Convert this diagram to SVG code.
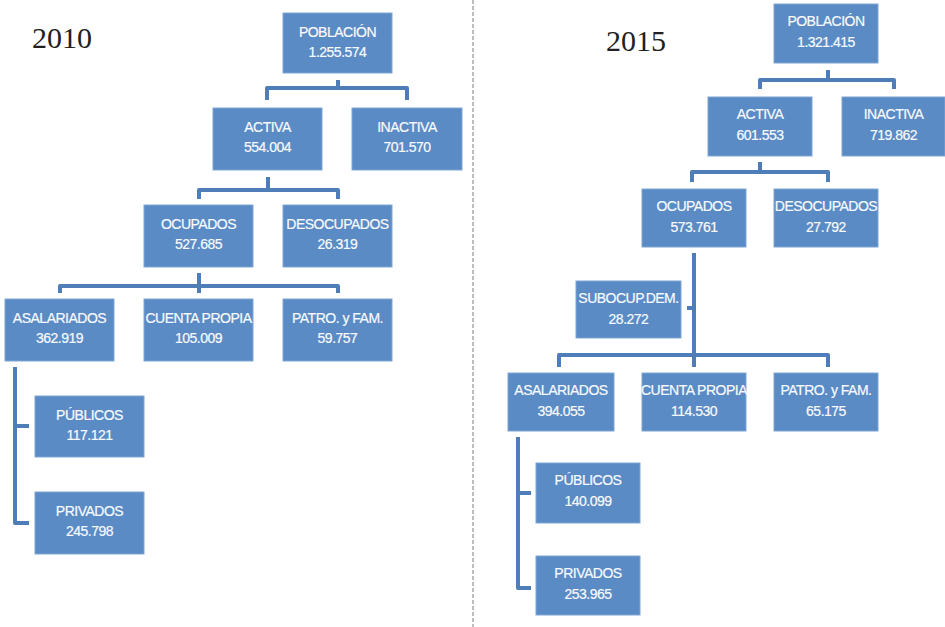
<svg xmlns="http://www.w3.org/2000/svg" width="945" height="627" viewBox="0 0 945 627">
<style>
.box{fill:#5B8BC5;stroke:#7FA5D6;stroke-width:1}
.t{font-family:"Liberation Sans",Arial,sans-serif;font-size:14px;letter-spacing:-0.5px;fill:#F7FAFD;stroke:#F7FAFD;stroke-width:0.2;text-anchor:middle}
.yr{font-family:"Liberation Serif","Times New Roman",serif;font-size:30px;fill:#231F20}
.c{fill:none;stroke:#4E7DB8;stroke-width:4;stroke-linejoin:round;stroke-linecap:butt}
</style>
<rect width="945" height="627" fill="#FFFFFF"/>
<line x1="473" y1="0" x2="473" y2="627" stroke="#A8A8A8" stroke-width="1.5" stroke-dasharray="4 2"/>
<text class="yr" x="32" y="48">2010</text>
<text class="yr" x="606" y="51">2015</text>
<g id="connectors">
<path class="c" d="M338,80 V88 M267,100 V88 H407 V100"/>
<path class="c" d="M268,177 V190 M199,199 V190 H338 V199"/>
<path class="c" d="M199,273 V293 M60,293 V286 H338 V293"/>
<path class="c" d="M29,426 H15 M15,367 V523 H29"/>
<path class="c" d="M828,70 V80 M760,89 V80 H894 V89"/>
<path class="c" d="M760,162 V172 M692,182 V172 H828 V182"/>
<path class="c" d="M694,253 V367 M687,308 H694 M559,367 V355 H828 V367"/>
<path class="c" d="M531,493 H518 M518,437 V588 H531"/>
</g>
<g id="pob2010"><rect class="box" x="283" y="13" width="109" height="60"/><text class="t" x="337.5" y="37">POBLACIÓN</text><text class="t" x="337.5" y="57">1.255.574</text></g>
<g id="act2010"><rect class="box" x="213" y="108" width="109" height="62"/><text class="t" x="267.5" y="132">ACTIVA</text><text class="t" x="267.5" y="152">554.004</text></g>
<g id="inact2010"><rect class="box" x="352" y="108" width="110" height="62"/><text class="t" x="407" y="132">INACTIVA</text><text class="t" x="407" y="152">701.570</text></g>
<g id="ocu2010"><rect class="box" x="144" y="205" width="109" height="62"/><text class="t" x="198.5" y="229">OCUPADOS</text><text class="t" x="198.5" y="249">527.685</text></g>
<g id="desocu2010"><rect class="box" x="283" y="205" width="109" height="62"/><text class="t" x="337.5" y="229">DESOCUPADOS</text><text class="t" x="337.5" y="249">26.319</text></g>
<g id="asal2010"><rect class="box" x="5" y="299" width="109" height="62"/><text class="t" x="59.5" y="323">ASALARIADOS</text><text class="t" x="59.5" y="343">362.919</text></g>
<g id="cuenta2010"><rect class="box" x="144" y="299" width="109" height="62"/><text class="t" x="198.5" y="323">CUENTA PROPIA</text><text class="t" x="198.5" y="343">105.009</text></g>
<g id="patro2010"><rect class="box" x="283" y="299" width="109" height="62"/><text class="t" x="337.5" y="323">PATRO. y FAM.</text><text class="t" x="337.5" y="343">59.757</text></g>
<g id="pub2010"><rect class="box" x="35" y="396" width="109" height="61"/><text class="t" x="89.5" y="420">PÚBLICOS</text><text class="t" x="89.5" y="440">117.121</text></g>
<g id="priv2010"><rect class="box" x="35" y="492" width="109" height="62"/><text class="t" x="89.5" y="516">PRIVADOS</text><text class="t" x="89.5" y="536">245.798</text></g>
<g id="pob2015"><rect class="box" x="774" y="4" width="104" height="59"/><text class="t" x="826" y="26">POBLACIÓN</text><text class="t" x="826" y="47">1.321.415</text></g>
<g id="act2015"><rect class="box" x="708" y="97" width="104" height="59"/><text class="t" x="760" y="119">ACTIVA</text><text class="t" x="760" y="140">601.553</text></g>
<g id="inact2015"><rect class="box" x="842" y="97" width="103" height="59"/><text class="t" x="893.5" y="119">INACTIVA</text><text class="t" x="893.5" y="140">719.862</text></g>
<g id="ocu2015"><rect class="box" x="642" y="189" width="104" height="58"/><text class="t" x="694" y="211">OCUPADOS</text><text class="t" x="694" y="232">573.761</text></g>
<g id="desocu2015"><rect class="box" x="774" y="189" width="104" height="58"/><text class="t" x="826" y="211">DESOCUPADOS</text><text class="t" x="826" y="232">27.792</text></g>
<g id="subocup2015"><rect class="box" x="576" y="281" width="105" height="57"/><text class="t" x="628.5" y="303">SUBOCUP.DEM.</text><text class="t" x="628.5" y="324">28.272</text></g>
<g id="asal2015"><rect class="box" x="508" y="373" width="106" height="58"/><text class="t" x="561" y="395">ASALARIADOS</text><text class="t" x="561" y="416">394.055</text></g>
<g id="cuenta2015"><rect class="box" x="642" y="373" width="104" height="58"/><text class="t" x="694" y="395">CUENTA PROPIA</text><text class="t" x="694" y="416">114.530</text></g>
<g id="patro2015"><rect class="box" x="774" y="373" width="104" height="58"/><text class="t" x="826" y="395">PATRO. y FAM.</text><text class="t" x="826" y="416">65.175</text></g>
<g id="pub2015"><rect class="box" x="536" y="463" width="104" height="60"/><text class="t" x="588" y="485">PÚBLICOS</text><text class="t" x="588" y="506">140.099</text></g>
<g id="priv2015"><rect class="box" x="536" y="556" width="104" height="59"/><text class="t" x="588" y="578">PRIVADOS</text><text class="t" x="588" y="599">253.965</text></g>
</svg>
